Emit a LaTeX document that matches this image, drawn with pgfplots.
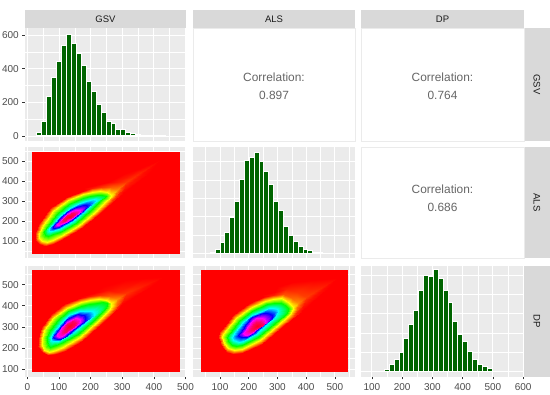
\documentclass[border=0pt]{standalone}
\usepackage{fontspec}
\setmainfont{Liberation Sans}
\usepackage{pgfplots}
\pgfplotsset{compat=1.18}
\definecolor{panelgray}{HTML}{EBEBEB}
\definecolor{stripgray}{HTML}{D9D9D9}
\definecolor{ticktext}{HTML}{4D4D4D}
\definecolor{tickline}{HTML}{333333}
\definecolor{stripink}{HTML}{1A1A1A}
\definecolor{corrink}{HTML}{666666}
\definecolor{bargreen}{HTML}{006400}
\pgfplotsset{
  colormap={rampgg}{rgb255=(255,0,0) rgb255=(255,255,0) rgb255=(0,255,0) rgb255=(0,255,255) rgb255=(0,0,255) rgb255=(255,0,255) rgb255=(255,0,0)},
  panel/.style={
    scale only axis, anchor=south west,
    axis background/.style={fill=panelgray},
    axis line style={draw=none},
    /pgf/number format/assume math mode=true,
    tick label style={font=\fontsize{10}{12}\selectfont, text=ticktext},
    major tick length=2.7pt, tick align=outside,
    xtick pos=bottom, ytick pos=left,
    grid=both,
    major grid style={white, line width=0.8pt},
    minor grid style={white, line width=0.4pt},
    minor tick style={draw=none},
    tick style={tickline, line width=0.6pt},
    scaled ticks=false,
    colormap name=rampgg, point meta min=0, point meta max=6,
    xticklabel style={yshift=-1pt},
  },
  c1/.style={xmin=-7.3, xmax=501, width=160.8pt, xtick={0,100,200,300,400,500}, minor xtick={50,150,250,350,450}},
  c2/.style={xmin=6, xmax=570, width=162pt, xtick={100,200,300,400,500}, minor xtick={50,150,250,350,450,550}},
  c3/.style={xmin=64, xmax=603, width=163pt, xtick={100,200,300,400,500,600}, minor xtick={150,250,350,450,550}},
  noxl/.style={xticklabels={}, xtick style={draw=none}},
  noyl/.style={yticklabels={}, ytick style={draw=none}},
  heat/.style={surf, shader=interp, mesh/cols=19, point meta=explicit, forget plot},
  hist/.style={ybar, bar width=#1, bar shift=0pt, fill=bargreen, draw=white, line width=1pt},
}
\begin{document}
\begin{tikzpicture}[x=1pt,y=1pt]
\useasboundingbox (0,0) rectangle (550,395);
\fill[white] (0,0) rectangle (550,395);
% strips
\fill[stripgray] (25,367) rectangle (185.8,385);
\fill[stripgray] (193,367) rectangle (355,385);
\fill[stripgray] (361,367) rectangle (524,385);
\fill[stripgray] (524,254) rectangle (550,367);
\fill[stripgray] (524,137) rectangle (550,248);
\fill[stripgray] (524,18.4) rectangle (550,129);
\begin{scope}[every node/.style={text=stripink, font=\fontsize{9.5}{11}\selectfont}]
\node at (105.4,375.8) {GSV};
\node at (274,375.8) {ALS};
\node at (442.5,375.8) {DP};
\node[rotate=-90] at (537,310.5) {GSV};
\node[rotate=-90] at (537,192.5) {ALS};
\node[rotate=-90] at (537,73.7) {DP};
\end{scope}
% correlation panels
\draw[panelgray, line width=0.6pt] (193,254) rectangle (355,367);
\draw[panelgray, line width=0.6pt] (361,254) rectangle (524,367);
\draw[panelgray, line width=0.6pt] (361,137) rectangle (524,248);
\begin{scope}[every node/.style={text=corrink, font=\fontsize{11.9}{14}\selectfont}]
\node at (274,318) {Correlation:};
\node at (274,300) {0.897};
\node at (442.5,318) {Correlation:};
\node at (442.5,300) {0.764};
\node at (442.5,206) {Correlation:};
\node at (442.5,188) {0.686};
\end{scope}

% row 1 col 1 histogram GSV
\begin{axis}[panel, c1, noxl, at={(25pt,254pt)}, height=113pt, ymin=-30, ymax=642,
  ytick={0,200,400,600}, minor ytick={100,300,500}]
\addplot[hist=15.7] coordinates {(37,20)(52.7,83)(68.4,234)(84.1,350)(99.8,442)(115.5,540)(131.2,604)(146.9,550)(162.6,493)(178.3,420)(194,323)(209.7,267)(225.4,188)(241.1,140)(256.8,87)(272.5,75)(288.2,36)(303.9,40)(319.6,20)(335.3,12)(351,8)(366.7,2)(382.4,2)(398.1,1)(413.8,1)(429.5,1)};
\end{axis}

% row 2 col 1 heat GSV-ALS
\begin{axis}[panel, c1, noxl, at={(25pt,137pt)}, height=111pt, ymin=15, ymax=570,
  ytick={100,200,300,400,500}, minor ytick={50,150,250,350,450,550}]
\addplot[fill=red, draw=none, forget plot] coordinates {(15,35)(482,35)(482,545)(15,545)} -- cycle;
\addplot[heat] table[row sep=\\, meta=c] {
x y c\\
418 505 0\\ 365 471 0\\ 313 438 0\\ 247 405 0\\ 182 372 0\\ 119 338 0\\ 63 277 0\\ 24 183 0\\ 19 140 0\\ 14 97 0\\ 33 78 0\\ 53 60 0\\ 82 74 0\\ 111 88 0\\ 171 143 0\\ 231 217 0\\ 355 380 0\\ 386 442 0\\ 418 505 0\\
313 397 .22\\ 284 397 .1\\ 255 397 0\\ 217 380 0\\ 179 363 0\\ 122 330 0\\ 67 270 0\\ 30 182 0\\ 24 142 0\\ 19 102 0\\ 34 82 0\\ 55 68 0\\ 82 80 0\\ 110 97 0\\ 168 152 0\\ 227 223 0\\ 303 338 0\\ 308 368 .1\\ 313 397 .22\\
284 355 .55\\ 264 368 .35\\ 234 372 .2\\ 206 365 .1\\ 177 352 0\\ 124 322 0\\ 72 263 0\\ 35 180 0\\ 25 139 0\\ 24 105 0\\ 36 85 0\\ 56 77 0\\ 80 86 0\\ 108 105 0\\ 166 160 0\\ 224 230 0\\ 264 297 .2\\ 280 329 .35\\ 284 355 .55\\
264 330 1\\ 251 343 1\\ 229 350 1\\ 204 345 1\\ 177 333 1\\ 129 305 1\\ 82 250 1\\ 46 172 1\\ 38 141 1\\ 38 117 1\\ 46 102 1\\ 61 97 1\\ 81 107 1\\ 105 125 1\\ 161 177 1\\ 213 243 1\\ 250 300 1\\ 262 317 1\\ 264 330 1\\
248 327 2\\ 237 331 2\\ 219 330 2\\ 199 323 2\\ 177 313 2\\ 132 285 2\\ 93 235 2\\ 61 172 2\\ 54 152 2\\ 53 138 2\\ 57 129 2\\ 66 127 2\\ 82 133 2\\ 103 147 2\\ 153 192 2\\ 201 255 2\\ 234 305 2\\ 245 319 2\\ 248 327 2\\
216 305 3\\ 210 308 3\\ 198 307 3\\ 184 300 3\\ 168 290 3\\ 134 267 3\\ 103 227 3\\ 77 180 3\\ 70 165 3\\ 67 155 3\\ 70 149 3\\ 77 148 3\\ 89 155 3\\ 105 167 3\\ 145 202 3\\ 182 250 3\\ 205 285 3\\ 213 297 3\\ 216 305 3\\
189 277 4\\ 184 280 4\\ 176 280 4\\ 165 275 4\\ 153 268 4\\ 129 250 4\\ 108 218 4\\ 88 183 4\\ 82 173 4\\ 80 167 4\\ 83 163 4\\ 89 163 4\\ 99 170 4\\ 111 180 4\\ 140 205 4\\ 166 238 4\\ 182 260 4\\ 187 270 4\\ 189 277 4\\
168 255 5\\ 164 257 5\\ 158 257 5\\ 150 253 5\\ 142 248 5\\ 126 235 5\\ 110 210 5\\ 98 192 5\\ 94 185 5\\ 93 180 5\\ 95 179 5\\ 100 180 5\\ 108 184 5\\ 117 190 5\\ 138 208 5\\ 153 230 5\\ 164 242 5\\ 167 249 5\\ 168 255 5\\
149 240 5.6\\ 146 242 5.6\\ 142 242 5.6\\ 138 240 5.6\\ 134 237 5.6\\ 127 230 5.6\\ 119 220 5.6\\ 114 210 5.6\\ 113 206 5.6\\ 112 202 5.6\\ 114 201 5.6\\ 118 202 5.6\\ 122 204 5.6\\ 126 208 5.6\\ 137 217 5.6\\ 145 227 5.6\\ 149 233 5.6\\ 150 237 5.6\\ 149 240 5.6\\
132 222 5.9\\ 132 222 5.9\\ 132 222 5.9\\ 132 222 5.9\\ 132 222 5.9\\ 132 222 5.9\\ 132 222 5.9\\ 132 222 5.9\\ 132 222 5.9\\ 132 222 5.9\\ 132 222 5.9\\ 132 222 5.9\\ 132 222 5.9\\ 132 222 5.9\\ 132 222 5.9\\ 132 222 5.9\\ 132 222 5.9\\ 132 222 5.9\\ 132 222 5.9\\
};
\end{axis}

% row 2 col 2 histogram ALS
\begin{axis}[panel, c2, noxl, noyl, at={(193pt,137pt)}, height=111pt, ymin=-26, ymax=580,
  ytick={0,200,400}, minor ytick={100,300,500}]
\addplot[hist=17] coordinates {(57.5,1)(74.5,4)(91.5,18)(108.5,60)(125.5,113)(142.5,195)(159.5,284)(176.5,402)(193.5,507)(210.5,520)(227.5,551)(244.5,500)(261.5,445)(278.5,373)(295.5,284)(312.5,233)(329.5,147)(346.5,95)(363.5,64)(380.5,35)(397.5,18)(414.5,13)(431.5,3)(448.5,3)};
\end{axis}

% row 3 col 1 heat GSV-DP
\begin{axis}[panel, c1, at={(25pt,18.4pt)}, height=110.6pt, ymin=65, ymax=588,
  ytick={100,200,300,400,500}, minor ytick={150,250,350,450,550}]
\addplot[fill=red, draw=none, forget plot] coordinates {(15,87)(482,87)(482,569.5)(15,569.5)} -- cycle;
\addplot[heat] table[row sep=\\, meta=c] {
x y c\\
429 538 0\\ 371 530 0\\ 313 522 0\\ 237 488 0\\ 161 454 0\\ 109 425 0\\ 65 373 0\\ 33 300 0\\ 28 250 0\\ 24 199 0\\ 41 170 0\\ 63 149 0\\ 92 157 0\\ 123 172 0\\ 180 220 0\\ 235 291 0\\ 366 459 0\\ 398 499 0\\ 429 538 0\\
313 459 .2\\ 284 467 .12\\ 255 475 .05\\ 210 459 0\\ 164 443 0\\ 114 415 0\\ 69 366 0\\ 38 297 0\\ 34 250 0\\ 30 204 0\\ 46 178 0\\ 65 157 0\\ 93 166 0\\ 121 180 0\\ 177 228 0\\ 231 298 0\\ 297 404 0\\ 305 432 .1\\ 313 459 .2\\
284 432 .55\\ 261 447 .35\\ 229 451 .2\\ 197 447 .1\\ 166 436 0\\ 117 407 0\\ 74 360 0\\ 42 294 0\\ 34 249 0\\ 34 207 0\\ 46 179 0\\ 66 165 0\\ 91 171 0\\ 119 188 0\\ 173 235 0\\ 227 306 0\\ 268 365 .2\\ 282 401 .35\\ 284 432 .55\\
266 412 1\\ 249 425 1\\ 224 432 1\\ 198 429 1\\ 171 420 1\\ 124 391 1\\ 82 344 1\\ 53 286 1\\ 46 249 1\\ 45 215 1\\ 54 193 1\\ 69 183 1\\ 90 190 1\\ 114 207 1\\ 166 251 1\\ 219 321 1\\ 255 373 1\\ 265 395 1\\ 266 412 1\\
252 412 2\\ 239 416 2\\ 219 414 2\\ 196 409 2\\ 171 401 2\\ 129 373 2\\ 93 328 2\\ 67 278 2\\ 62 253 2\\ 61 231 2\\ 64 215 2\\ 72 207 2\\ 91 214 2\\ 114 228 2\\ 161 267 2\\ 208 328 2\\ 242 380 2\\ 251 399 2\\ 252 412 2\\
210 368 3\\ 205 374 3\\ 195 376 3\\ 182 376 3\\ 166 373 3\\ 132 357 3\\ 105 317 3\\ 82 273 3\\ 76 258 3\\ 74 246 3\\ 75 236 3\\ 82 231 3\\ 96 235 3\\ 114 246 3\\ 150 281 3\\ 187 322 3\\ 205 346 3\\ 210 358 3\\ 210 368 3\\
182 349 4\\ 178 354 4\\ 171 357 4\\ 161 359 4\\ 150 357 4\\ 126 338 4\\ 108 306 4\\ 90 273 4\\ 84 262 4\\ 82 254 4\\ 85 246 4\\ 93 242 4\\ 105 245 4\\ 119 254 4\\ 145 286 4\\ 171 313 4\\ 182 330 4\\ 183 340 4\\ 182 349 4\\
166 333 5\\ 163 338 5\\ 158 341 5\\ 151 341 5\\ 143 338 5\\ 126 322 5\\ 111 298 5\\ 100 275 5\\ 95 268 5\\ 93 262 5\\ 95 256 5\\ 100 254 5\\ 109 258 5\\ 119 267 5\\ 140 289 5\\ 158 310 5\\ 166 322 5\\ 167 328 5\\ 166 333 5\\
152 321 5.6\\ 149 325 5.6\\ 145 328 5.6\\ 141 328 5.6\\ 137 325 5.6\\ 127 314 5.6\\ 120 300 5.6\\ 116 287 5.6\\ 115 281 5.6\\ 116 276 5.6\\ 118 274 5.6\\ 122 276 5.6\\ 125 279 5.6\\ 129 284 5.6\\ 140 294 5.6\\ 148 303 5.6\\ 152 313 5.6\\ 153 317 5.6\\ 152 321 5.6\\
132 302 5.9\\ 132 302 5.9\\ 132 302 5.9\\ 132 302 5.9\\ 132 302 5.9\\ 132 302 5.9\\ 132 302 5.9\\ 132 302 5.9\\ 132 302 5.9\\ 132 302 5.9\\ 132 302 5.9\\ 132 302 5.9\\ 132 302 5.9\\ 132 302 5.9\\ 132 302 5.9\\ 132 302 5.9\\ 132 302 5.9\\ 132 302 5.9\\ 132 302 5.9\\
};
\end{axis}

% row 3 col 2 heat ALS-DP
\begin{axis}[panel, c2, noyl, at={(193pt,18.4pt)}, height=110.6pt, ymin=65, ymax=588,
  ytick={100,200,300,400,500}, minor ytick={150,250,350,450,550}]
\addplot[fill=red, draw=none, forget plot] coordinates {(33,87)(545,87)(545,569.5)(33,569.5)} -- cycle;
\addplot[heat] table[row sep=\\, meta=c] {
x y c\\
506 530 0\\ 431 522 0\\ 355 514 0\\ 300 491 0\\ 244 462 0\\ 188 426 0\\ 135 373 0\\ 98 306 0\\ 88 278 0\\ 79 250 0\\ 92 205 0\\ 110 168 0\\ 145 158 0\\ 182 160 0\\ 254 205 0\\ 326 278 0\\ 448 436 0\\ 477 483 0\\ 506 530 0\\
401 443 .25\\ 367 463 .2\\ 332 480 .12\\ 290 467 0\\ 247 451 0\\ 193 417 0\\ 141 365 0\\ 103 302 0\\ 94 276 0\\ 86 250 0\\ 97 210 0\\ 115 176 0\\ 147 168 0\\ 180 168 0\\ 251 213 0\\ 320 286 0\\ 384 373 0\\ 393 408 .1\\ 401 443 .25\\
372 412 .55\\ 351 439 .4\\ 320 456 .3\\ 286 453 .1\\ 251 440 0\\ 196 409 0\\ 146 357 0\\ 109 297 0\\ 97 274 0\\ 93 250 0\\ 102 214 0\\ 120 183 0\\ 146 173 0\\ 178 176 0\\ 247 221 0\\ 314 294 0\\ 355 346 .2\\ 369 380 .35\\ 372 412 .55\\
353 396 1\\ 338 419 1\\ 314 436 1\\ 286 434 1\\ 256 423 1\\ 204 391 1\\ 156 341 1\\ 121 286 1\\ 110 268 1\\ 107 250 1\\ 114 223 1\\ 129 199 1\\ 149 190 1\\ 175 194 1\\ 239 239 1\\ 303 310 1\\ 341 357 1\\ 352 377 1\\ 353 396 1\\
338 388 2\\ 328 404 2\\ 311 415 2\\ 288 415 2\\ 262 407 2\\ 210 373 2\\ 167 328 2\\ 137 278 2\\ 127 263 2\\ 123 250 2\\ 129 231 2\\ 141 215 2\\ 155 210 2\\ 175 215 2\\ 233 254 2\\ 291 320 2\\ 326 357 2\\ 336 373 2\\ 338 388 2\\
303 376 3\\ 297 386 3\\ 285 391 3\\ 272 388 3\\ 256 380 3\\ 210 357 3\\ 179 321 3\\ 153 275 3\\ 146 263 3\\ 143 253 3\\ 147 240 3\\ 156 231 3\\ 166 229 3\\ 181 234 3\\ 227 267 3\\ 268 317 3\\ 291 349 3\\ 300 364 3\\ 303 376 3\\
280 354 4\\ 273 361 4\\ 262 365 4\\ 251 364 4\\ 239 360 4\\ 210 346 4\\ 190 313 4\\ 172 278 4\\ 166 268 4\\ 164 262 4\\ 166 257 4\\ 172 254 4\\ 181 252 4\\ 193 254 4\\ 222 275 4\\ 251 310 4\\ 274 333 4\\ 280 344 4\\ 280 354 4\\
256 330 5\\ 252 338 5\\ 245 344 5\\ 237 344 5\\ 227 341 5\\ 210 328 5\\ 197 306 5\\ 187 281 5\\ 183 274 5\\ 181 270 5\\ 183 265 5\\ 188 262 5\\ 195 263 5\\ 204 267 5\\ 222 283 5\\ 239 302 5\\ 253 316 5\\ 256 323 5\\ 256 330 5\\
248 313 5.6\\ 244 319 5.6\\ 239 322 5.6\\ 233 323 5.6\\ 227 321 5.6\\ 216 314 5.6\\ 211 306 5.6\\ 207 294 5.6\\ 207 290 5.6\\ 209 286 5.6\\ 212 283 5.6\\ 216 284 5.6\\ 220 287 5.6\\ 224 291 5.6\\ 232 295 5.6\\ 239 298 5.6\\ 246 305 5.6\\ 249 309 5.6\\ 248 313 5.6\\
229 306 5.9\\ 229 306 5.9\\ 229 306 5.9\\ 229 306 5.9\\ 229 306 5.9\\ 229 306 5.9\\ 229 306 5.9\\ 229 306 5.9\\ 229 306 5.9\\ 229 306 5.9\\ 229 306 5.9\\ 229 306 5.9\\ 229 306 5.9\\ 229 306 5.9\\ 229 306 5.9\\ 229 306 5.9\\ 229 306 5.9\\ 229 306 5.9\\ 229 306 5.9\\
};
\end{axis}

% row 3 col 3 histogram DP
\begin{axis}[panel, c3, noyl, at={(361pt,18.4pt)}, height=110.6pt, ymin=-25, ymax=546,
  ytick={0,200,400}, minor ytick={100,300,500}]
\addplot[hist=16.2] coordinates {(133,1)(149.2,10)(165.4,38)(181.6,61)(197.8,101)(214,174)(230.2,243)(246.4,316)(262.6,421)(278.8,499)(295,490)(311.2,530)(327.4,483)(343.6,421)(359.8,360)(376,257)(392.2,190)(408.4,155)(424.6,103)(440.8,63)(457,40)(473.2,26)(489.4,16)(505.6,3)(521.8,1.5)(538,1)};
\end{axis}
\end{tikzpicture}
\end{document}
